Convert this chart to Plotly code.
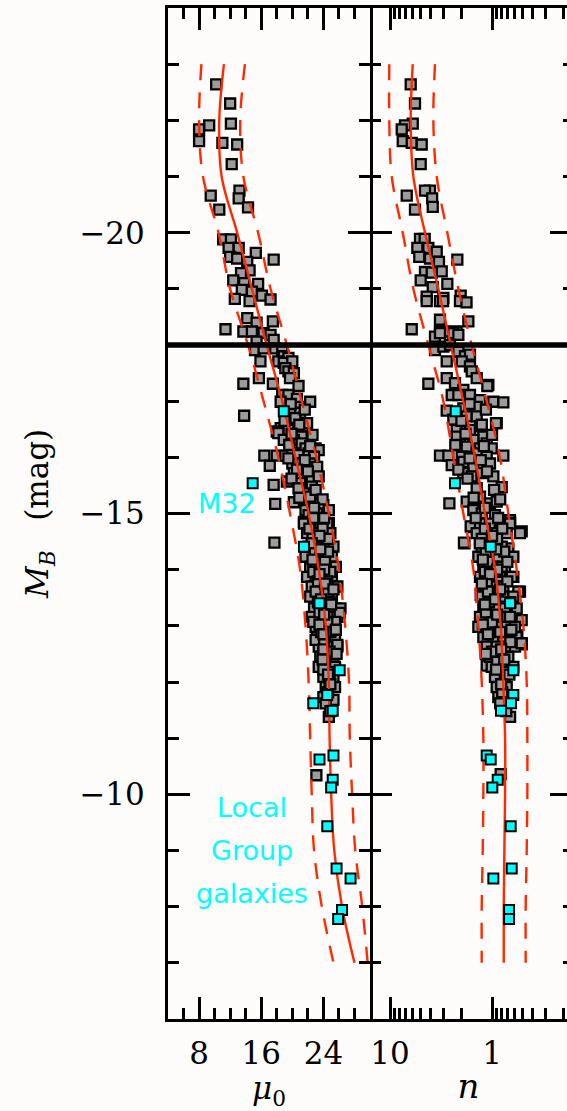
import plotly.graph_objects as go

# ---------------- data ----------------
mb_split = -18.0

# left panel, grey points: M_B and central surface brightness mu_0
mb_left = [
    -22.64, -22.30, -21.94, -21.91, -21.84, -21.63, -21.60, -21.57, -21.22, -20.75, -20.66, -20.61, -20.45, -20.41,
    -19.88, -19.88, -19.73, -19.73, -19.64, -19.57, -19.54, -19.52, -19.48, -19.33, -19.28, -19.15, -19.10, -19.09,
    -18.98, -18.95, -18.88, -18.82, -18.81, -18.78, -18.48, -18.40, -18.42, -18.28, -18.24, -18.24, -18.21, -18.18,
    -18.06, -18.09, -17.91, -17.94, -17.94, -17.89, -17.80, -17.77, -17.71, -17.71, -17.68, -17.71, -17.41, -17.59,
    -17.53, -17.50, -17.31, -17.31, -17.41, -17.27, -17.11, -17.11, -17.04, -16.99, -16.99, -16.90, -16.79, -16.79,
    -16.74, -16.70, -16.61, -16.52, -16.49, -16.49, -16.38, -16.37, -16.46, -16.43, -16.31, -16.31, -16.25, -16.16,
    -16.16, -16.13, -16.03, -16.03, -16.03, -16.07, -16.04, -16.07, -16.01, -15.85, -15.89, -15.89, -15.89, -15.83,
    -15.57, -15.51, -15.72, -15.66, -15.60, -15.66, -15.54, -15.48, -15.21, -15.24, -15.17, -15.20, -15.36, -15.30,
    -15.18, -15.15, -15.06, -14.97, -15.00, -15.06, -14.85, -14.76, -14.83, -14.48,
    -14.82, -14.82, -14.82, -14.82, -14.65, -14.65, -14.65, -14.65, -14.41, -14.41, -14.41, -14.41,
    -14.23, -14.23, -14.23, -14.23, -14.05, -14.05, -14.05, -14.05, -13.87, -13.87, -13.87, -13.87,
    -13.70, -13.70, -13.70, -13.70, -13.52, -13.52, -13.52, -13.31, -13.31, -13.31, -13.31,
    -13.16, -13.16, -13.16, -12.98, -12.98, -12.98, -12.80, -12.80, -12.80, -12.63, -12.63, -12.63,
    -12.45, -12.45, -12.45, -12.27, -12.27, -12.27, -12.09, -12.09, -11.91, -11.91, -11.73, -11.56,
    -13.23, -13.07, -13.07, -12.75, -12.66, -11.68, -11.38, -10.34,
    -14.73, -14.73, -14.55, -14.55, -14.32, -14.32, -14.14, -14.14, -13.96, -13.96, -13.79, -13.79,
    -13.61, -13.61, -13.42, -13.42, -13.24, -13.06, -12.89, -12.89, -12.71, -12.54, -12.36, -12.18,
    -12.00, -11.82,
    -16.95, -16.85, -16.65, -16.58, -16.42, -16.40, -16.22, -16.20, -15.98, -15.95, -15.78, -15.75,
    -15.62, -15.45, -15.42, -15.28, -15.25, -15.10, -14.92, -14.92,
    -14.60, -14.47, -14.36, -14.18, -14.00, -13.92, -13.75, -13.65, -13.47, -13.38, -13.20, -13.02,
    -12.93, -12.85, -12.58, -12.50, -12.40, -12.22, -12.13, -11.96, -11.62, -11.48,
]
mu0_left = [
    10.2, 12.0, 12.1, 9.3, 8.0, 8.0, 11.0, 12.9, 12.2, 13.2, 9.5, 13.1, 14.3, 10.6,
    11.1, 12.1, 11.8, 13.1, 15.3, 12.0, 12.9, 17.6, 14.2, 14.5, 13.4, 12.4, 13.8, 15.6,
    13.5, 14.8, 16.1, 12.6, 17.2, 14.5, 14.2, 15.4, 17.5, 11.4, 13.7, 14.8, 16.3, 17.2,
    15.4, 17.6, 15.2, 16.3, 17.8, 18.7, 18.9, 19.5, 15.9, 18.2, 18.9, 20.0, 15.7, 19.1,
    19.5, 20.2, 13.7, 17.5, 19.7, 20.8, 18.7, 19.5, 20.6, 22.3, 18.5, 20.8, 20.2, 21.0,
    13.8, 20.4, 21.9, 18.5, 19.5, 20.8, 22.1, 21.2, 18.0, 18.2, 18.9, 20.2, 21.2, 21.7,
    23.0, 23.4, 16.4, 18.0, 19.1, 20.0, 20.8, 22.1, 22.8, 17.1, 20.0, 21.2, 22.3, 23.2,
    19.3, 17.6, 20.2, 21.2, 22.5, 23.4, 21.0, 22.5, 21.5, 22.7, 17.8, 20.2, 21.5, 22.3,
    23.6, 24.0, 21.7, 22.1, 23.2, 24.7, 21.5, 23.2, 24.7, 17.7,
    21.5, 22.7, 23.6, 24.5, 21.9, 23.2, 24.0, 24.9, 22.1, 23.0, 24.3, 25.3,
    21.7, 23.2, 24.0, 25.1, 22.3, 23.6, 24.7, 25.6, 21.9, 23.0, 24.3, 25.1,
    22.5, 23.6, 24.9, 25.8, 22.3, 24.0, 25.1, 22.8, 23.8, 25.5, 26.2,
    22.5, 24.7, 25.8, 23.0, 24.0, 25.3, 23.2, 24.5, 25.5, 23.4, 24.7, 25.8,
    23.6, 24.3, 25.3, 23.4, 24.9, 25.5, 24.0, 25.3, 24.3, 25.5, 24.0, 24.9,
    26.1, 25.5, 22.7, 23.0, 25.8, 25.3, 24.7, 23.1,
    22.2, 23.9, 22.6, 24.6, 22.9, 24.6, 23.0, 24.2, 22.7, 24.9, 23.3, 24.5,
    23.0, 24.6, 23.3, 24.8, 23.5, 24.5, 23.7, 24.9, 24.1, 24.8, 24.2, 24.6,
    24.8, 24.6,
    19.8, 21.6, 19.0, 20.9, 19.9, 22.6, 19.6, 22.3, 19.5, 21.6, 20.6, 22.0,
    19.9, 20.8, 23.0, 20.9, 23.9, 22.8, 22.7, 24.1,
    23.5, 22.5, 23.6, 22.6, 24.1, 23.5, 24.2, 25.3, 23.7, 25.0, 24.1, 23.5,
    25.6, 24.0, 24.0, 25.7, 23.9, 24.0, 24.6, 24.9, 24.3, 24.9,
]

# right panel, grey points: M_B and log10 of Sersic index n
mb_right = [
    -22.64, -22.30, -21.94, -21.91, -21.84, -21.63, -21.60, -21.57, -21.22, -20.75, -20.75, -20.66, -20.61, -20.46,
    -20.41, -19.89, -19.89, -19.73, -19.73, -19.57, -19.54, -19.66, -19.48, -19.52, -19.30, -19.31, -19.15, -19.29,
    -19.09, -19.03, -18.88, -18.86, -18.84, -18.78, -18.78, -18.78, -18.78, -18.76, -18.45, -18.42, -18.28, -18.24,
    -18.24, -18.24, -18.15, -18.21, -18.21, -18.18, -17.91, -17.97, -18.00, -17.88, -17.80, -17.83, -17.71, -17.71,
    -17.62, -17.53, -17.41, -17.31, -17.41, -17.32, -17.20, -17.29, -17.11, -17.11, -17.11, -17.02, -16.99, -16.98,
    -16.83, -16.87, -16.90, -16.67, -16.73, -16.73, -16.61, -16.49, -16.49, -16.55, -16.37, -16.31, -16.31, -16.25,
    -16.19, -16.16, -16.16, -16.03, -16.03, -16.01, -16.07, -16.01, -16.03, -15.86, -15.92, -15.83, -15.89, -15.72,
    -15.66, -15.72, -15.66, -15.47, -15.18, -15.21, -15.30, -15.18, -15.21, -15.06, -15.00, -14.97, -14.88,
    -17.27, -16.61, -16.37, -14.76, -14.83, -14.68, -14.47, -13.87, -13.61, -13.55,
    -14.77, -14.48, -14.38, -14.65, -14.02, -13.61, -12.98, -13.10, -12.67, -12.29, -12.83, -12.00,
    -14.82, -14.82, -14.82, -14.82, -14.65, -14.65, -14.65, -14.65, -14.41, -14.41, -14.41,
    -14.23, -14.23, -14.23, -14.23, -14.05, -14.05, -14.05, -13.87, -13.87, -13.87, -13.87,
    -13.70, -13.70, -13.70, -13.52, -13.52, -13.52, -13.52, -13.31, -13.31, -13.31, -13.31,
    -13.16, -13.16, -13.16, -13.16, -12.98, -12.98, -12.98, -12.98, -12.80, -12.80, -12.80, -12.80,
    -12.63, -12.63, -12.63, -12.63, -12.45, -12.45, -12.45, -12.27, -12.27, -12.27, -12.09, -12.09,
    -11.91, -11.91, -11.73, -11.56, -12.69, -11.38, -10.36,
    -14.73, -14.73, -14.55, -14.55, -14.32, -14.32, -14.14, -14.14, -13.96, -13.96, -13.79, -13.79,
    -13.61, -13.61, -13.42, -13.42, -13.24, -13.06, -12.89, -12.71, -12.54, -12.36, -12.18, -11.82,
    -16.95, -16.85, -16.65, -16.58, -16.42, -16.40, -16.22, -16.20, -15.98, -15.95, -15.78, -15.75,
    -15.62, -15.45, -15.42, -15.28, -15.25, -15.10, -14.92, -14.92,
    -14.60, -14.47, -14.36, -14.18, -14.00, -13.92, -13.75, -13.65, -13.47, -13.38, -13.20, -13.02,
    -12.93, -12.85, -12.58, -12.50, -12.40, -12.22, -12.13, -11.96, -11.62, -11.48,
]
log_n_right = [
    0.797, 0.755, 0.777, 0.853, 0.885, 0.875, 0.787, 0.689, 0.699, 0.608, 0.657, 0.836, 0.587, 0.581,
    0.755, 0.706, 0.660, 0.732, 0.624, 0.713, 0.608, 0.542, 0.520, 0.340, 0.657, 0.493, 0.699, 0.591,
    0.438, 0.581, 0.307, 0.640, 0.477, 0.640, 0.510, 0.480, 0.314, 0.250, 0.510, 0.232, 0.787, 0.510,
    0.460, 0.346, 0.559, 0.510, 0.379, 0.330, 0.559, 0.477, 0.412, 0.330, 0.265, 0.216, 0.444, 0.297,
    0.216, 0.199, 0.150, 0.624, 0.444, 0.363, 0.281, 0.036, 0.395, 0.330, 0.216, 0.118, -0.013, -0.111,
    0.444, 0.281, 0.150, 0.379, 0.248, 0.150, -0.046, 0.346, 0.216, 0.118, 0.085, 0.314, 0.183, 0.052,
    0.248, 0.118, 0.003, 0.510, 0.428, 0.297, 0.150, 0.052, -0.111, 0.395, 0.281, 0.183, 0.020, 0.281,
    0.199, 0.101, -0.013, -0.095, 0.418, 0.248, 0.118, 0.020, -0.046, 0.183, 0.101, -0.029, -0.176,
    0.046, -0.039, 0.346, 0.199, -0.177, -0.291, 0.271, -0.209, -0.274, 0.111,
    0.209, 0.275, -0.160, -0.274, -0.127, -0.258, 0.134, -0.291, -0.291, 0.052, -0.248, -0.062,
    0.118, 0.020, -0.078, -0.176, 0.150, 0.052, -0.046, -0.144, 0.101, 0.003, -0.095,
    0.134, 0.020, -0.062, -0.209, 0.085, -0.013, -0.095, 0.118, 0.020, -0.078, -0.193,
    0.069, -0.013, -0.111, 0.101, 0.020, -0.111, -0.209, 0.085, -0.029, -0.127, -0.242,
    0.118, 0.020, -0.078, -0.176, 0.052, -0.046, -0.144, -0.225, 0.085, -0.013, -0.111, -0.242,
    0.052, -0.046, -0.144, -0.225, 0.020, -0.078, -0.160, 0.003, -0.095, -0.209, -0.029, -0.127,
    -0.046, -0.144, -0.062, -0.111, -0.291, -0.177, -0.085,
    0.070, -0.100, 0.100, -0.050, 0.060, -0.120, 0.040, -0.150, 0.070, -0.040, 0.050, -0.150,
    0.040, -0.060, 0.030, -0.180, 0.060, 0.000, -0.080, -0.180, 0.000, -0.050, -0.150, -0.100,
    0.220, 0.060, 0.300, 0.100, 0.260, 0.000, 0.360, 0.080, 0.220, 0.110, 0.330, 0.050,
    0.240, 0.150, -0.020, 0.180, -0.080, 0.070, 0.160, -0.060,
    0.000, 0.120, -0.040, 0.090, -0.050, 0.020, 0.100, -0.080, -0.030, 0.070, -0.050, 0.090,
    -0.190, 0.040, -0.090, 0.060, -0.120, -0.040, -0.170, -0.090, -0.080, -0.140,
]

# Local Group galaxies (cyan)
mb_lg = [-16.82, -15.54, -14.41, -13.40, -12.21, -11.77, -11.62, -11.49, -10.69, -10.62, -10.26, -10.12,
         -9.43, -8.68, -8.50, -7.94, -7.78]
mu0_lg = [18.9, 14.9, 21.5, 23.5, 26.1, 24.5, 22.7, 25.2, 25.3, 23.5, 25.2, 25.0, 24.5, 25.7, 27.5, 26.4, 25.9]
log_n_lg = [0.356, 0.363, 0.013, -0.177, -0.209, -0.209, -0.186, -0.088, 0.052, 0.013, -0.056, -0.003,
            -0.183, -0.193, -0.013, -0.167, -0.167]

# fitted relations (solid) and their spread (dashed)
fit_mb = [-23, -22, -21, -20, -19, -18, -17, -16, -15, -14, -13, -12, -11, -10, -9, -8, -7]
fit_mu0 = [11.2, 10.6, 10.9, 12.9, 14.8, 16.7, 18.7, 20.4, 22.1, 23.4, 24.3, 24.7, 24.8, 25.0, 25.4, 26.4, 28.0]
fit_mu0_lo = [8.3, 8.0, 8.5, 10.5, 12.0, 14.3, 16.3, 18.2, 19.7, 21.0, 21.7, 22.1, 22.3, 22.5, 22.8, 23.8, 25.3]
fit_mu0_hi = [13.9, 13.3, 13.7, 15.6, 17.2, 19.3, 21.2, 23.1, 24.7, 26.0, 26.8, 27.3, 27.4, 27.7, 28.1, 29.0, 29.7]
fit_logn = [0.777, 0.797, 0.771, 0.657, 0.526, 0.405, 0.281, 0.167, 0.069, -0.030, -0.085, -0.110, -0.128,
            -0.128, -0.121, -0.115, -0.115]
fit_logn_hi = [1.007, 1.007, 0.983, 0.875, 0.771, 0.624, 0.477, 0.379, 0.281, 0.183, 0.134, 0.101, 0.085,
               0.085, 0.091, 0.101, 0.101]
fit_logn_lo = [0.559, 0.575, 0.542, 0.438, 0.330, 0.199, 0.052, -0.078, -0.160, -0.242, -0.307, -0.340,
               -0.346, -0.346, -0.340, -0.330, -0.330]

y_ticks = [-20, -15, -10]
y_ticktext = ["\u221220", "\u221215", "\u221210"]
mu0_ticks = [8, 16, 24]
n_ticks = [10, 1]
n_ticktext = ["10", "1"]
n_minor = [20, 9, 8, 7, 6, 5, 4, 3, 2, 0.9, 0.8, 0.7, 0.6, 0.5, 0.4, 0.3, 0.2]

# ---------------- styling ----------------
BG = "#fdfcfa"
GREY = "#9c9c9c"
CYAN = "#00ffff"
RED = "#ff2a00"
SERIF = "DejaVu Serif"
W, H = 567, 1111
ML, MR, MT, MB = 168, 0, 8, 92
split = (370 - ML) / (W - ML - MR)

def tolin(v):
    return [10 ** a for a in v]

fig = go.Figure()

grey_marker = dict(symbol="square", size=10, color=GREY, line=dict(color="black", width=2.3))
cyan_marker = dict(symbol="square", size=10, color=CYAN, line=dict(color="black", width=2.0))

fig.add_trace(go.Scatter(x=mu0_left, y=mb_left, mode="markers", marker=grey_marker,
                         xaxis="x", yaxis="y", showlegend=False, hoverinfo="skip"))
fig.add_trace(go.Scatter(x=tolin(log_n_right), y=mb_right, mode="markers", marker=grey_marker,
                         xaxis="x2", yaxis="y2", showlegend=False, hoverinfo="skip"))

dash = "16px,12px"
for xs, d in [(fit_mu0, "solid"), (fit_mu0_lo, dash), (fit_mu0_hi, dash)]:
    fig.add_trace(go.Scatter(x=xs, y=fit_mb, mode="lines",
                             line=dict(color=RED, width=2.4, dash=d, shape="spline"),
                             xaxis="x", yaxis="y", showlegend=False, hoverinfo="skip"))
for xs, d in [(fit_logn, "solid"), (fit_logn_hi, dash), (fit_logn_lo, dash)]:
    fig.add_trace(go.Scatter(x=tolin(xs), y=fit_mb, mode="lines",
                             line=dict(color=RED, width=2.4, dash=d, shape="spline"),
                             xaxis="x2", yaxis="y2", showlegend=False, hoverinfo="skip"))

fig.add_trace(go.Scatter(x=mu0_lg, y=mb_lg, mode="markers", marker=cyan_marker,
                         xaxis="x", yaxis="y", showlegend=False, hoverinfo="skip"))
fig.add_trace(go.Scatter(x=tolin(log_n_lg), y=mb_lg, mode="markers", marker=cyan_marker,
                         xaxis="x2", yaxis="y2", showlegend=False, hoverinfo="skip"))
# carrier for the right-hand mirror ticks
fig.add_trace(go.Scatter(x=[], y=[], xaxis="x2", yaxis="y3", showlegend=False))

tickfont = dict(family=SERIF, size=31, color="black")
titlefont = dict(family=SERIF, size=31, color="black")
axis_common = dict(showgrid=False, zeroline=False, showline=True, linecolor="black", linewidth=3,
                   ticks="inside", tickcolor="black", tickwidth=2.5, ticklen=22)
minor_common = dict(ticks="inside", ticklen=11, tickwidth=2.5, tickcolor="black", showgrid=False)

NB = "\u00a0"

fig.update_layout(
    width=W, height=H, margin=dict(l=ML, r=MR, t=MT, b=MB, autoexpand=False),
    paper_bgcolor=BG, plot_bgcolor=BG, showlegend=False,
    font=dict(family=SERIF, color="black"),
    xaxis=dict(**axis_common, domain=[0, split], range=[4, 30], anchor="y", mirror="ticks",
               tickmode="array", tickvals=mu0_ticks, tickfont=tickfont, ticklabelstandoff=5,
               minor=dict(**minor_common, tick0=0, dtick=2),
               title=dict(text="<i>\u03bc</i><sub>0</sub>", font=titlefont, standoff=6)),
    yaxis=dict(**axis_common, domain=[0, 1], range=[-6, -24], anchor="x", mirror="ticks",
               tickmode="array", tickvals=y_ticks, ticktext=y_ticktext, tickfont=tickfont,
               ticklabelstandoff=14,
               minor=dict(**minor_common, tick0=0, dtick=1),
               title=dict(text="<i>M</i><sub><i>B</i></sub>" + NB * 3 + "(mag)", font=titlefont, standoff=22)),
    xaxis2=dict(**axis_common, type="log", domain=[split, 1], range=[1.196, -0.735], anchor="y2",
                mirror="ticks", tickmode="array", tickvals=n_ticks, ticktext=n_ticktext,
                tickfont=tickfont, ticklabelstandoff=5,
                minor=dict(**minor_common, tickmode="array", tickvals=n_minor),
                title=dict(text="<i>n</i>", font=dict(family=SERIF, size=34, color="black"), standoff=4)),
    yaxis2=dict(showgrid=False, zeroline=False, showline=False,
                ticks="inside", tickcolor="black", tickwidth=2.5, ticklen=22,
                domain=[0, 1], range=[-6, -24], anchor="x2", mirror=False,
                tickmode="array", tickvals=y_ticks, showticklabels=False,
                minor=dict(**minor_common, tick0=0, dtick=1)),
    yaxis3=dict(showgrid=False, zeroline=False, showline=False, overlaying="y2", anchor="free",
                position=1, side="right", range=[-6, -24], ticks="inside", tickcolor="black",
                tickwidth=2.5, ticklen=17, tickmode="array", tickvals=y_ticks, showticklabels=False,
                minor=dict(ticks="inside", ticklen=4, tickwidth=2.5, tickcolor="black",
                           tick0=0, dtick=1, showgrid=False)),
    shapes=[dict(type="line", xref="paper", x0=0, x1=1, yref="y", y0=mb_split, y1=mb_split,
                 line=dict(color="black", width=5.5))],
    annotations=[
        dict(text="M32", x=11.6, y=-15.17, xref="x", yref="y", showarrow=False,
             font=dict(family="DejaVu Sans", size=27, color=CYAN)),
        dict(text="Local", x=14.8, y=-9.77, xref="x", yref="y", showarrow=False,
             font=dict(family="DejaVu Sans", size=27, color=CYAN)),
        dict(text="Group", x=14.8, y=-9.0, xref="x", yref="y", showarrow=False,
             font=dict(family="DejaVu Sans", size=27, color=CYAN)),
        dict(text="galaxies", x=14.8, y=-8.24, xref="x", yref="y", showarrow=False,
             font=dict(family="DejaVu Sans", size=27, color=CYAN)),
    ],
)

fig.write_html("out.html", config={"displayModeBar": False},
               post_script="document.body.style.margin='0';document.body.style.overflow='hidden';")
